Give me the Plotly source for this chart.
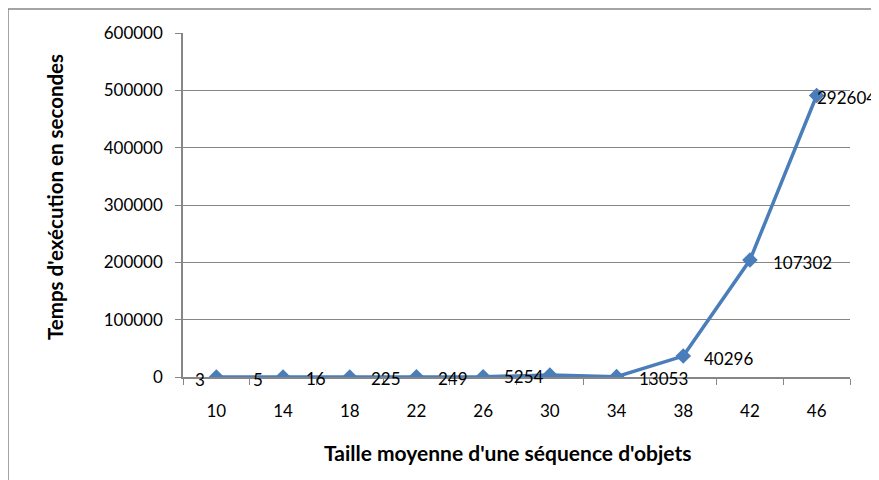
import plotly.graph_objects as go

categories = ["10", "14", "18", "22", "26", "30", "34", "38", "42", "46"]
values = [3, 5, 16, 225, 249, 3500, 600, 36500, 204000, 491000]
labels = ["3", "5", "16", "225", "249", "5254", "13053", "40296", "107302", "292604"]
y_ticks = [0, 100000, 200000, 300000, 400000, 500000, 600000]

label_shift = [-23, -32, -46, -47, -47, -48, 20, 19, 21, -2]

# page body has an 8px margin; coordinates below are window pixels
OFF = 8
WIN_W, WIN_H = 879, 480
W, H = WIN_W - OFF, WIN_H - OFF
PL, PR, PT, PB = 183, 850, 33, 377  # plot area in window pixels
L = PL - OFF
T = PT - OFF
R = W - (PR - OFF)
B = H - (PB - OFF)
pw, ph = PR - PL, PB - PT

def px(x):
    return (x - PL) / pw

def py(y):
    return (PB - y) / ph

FONT = "Lato"
FS = 17
grid = "#868686"
blue = "#4A7EBB"
idx = list(range(len(categories)))

fig = go.Figure()
fig.add_trace(go.Scatter(
    x=idx, y=values, mode="lines+markers",
    line=dict(color=blue, width=3.5),
    marker=dict(symbol="diamond", size=12, color=blue),
    hoverinfo="skip", showlegend=False,
))

annotations = []
for i, v, t, s in zip(idx, values, labels, label_shift):
    annotations.append(dict(
        x=i, y=v, xref="x", yref="y", text=t, showarrow=False,
        xanchor="left", yanchor="middle", xshift=s, yshift=-2,
        font=dict(family=FONT, size=FS, color="#000"),
    ))
annotations.append(dict(
    x=px(507), y=py(452), xref="paper", yref="paper",
    text="<b>Taille moyenne d'une séquence d'objets</b>", showarrow=False,
    xanchor="center", yanchor="middle",
    font=dict(family=FONT, size=21, color="#000"),
))
annotations.append(dict(
    x=px(55), y=py(197), xref="paper", yref="paper",
    text="<b>Temps d'exécution en secondes</b>", showarrow=False, textangle=-90,
    xanchor="center", yanchor="middle",
    font=dict(family=FONT, size=20.5, color="#000"),
))

fig.update_layout(
    width=W, height=H,
    margin=dict(l=L, r=R, t=T, b=B),
    paper_bgcolor="white", plot_bgcolor="white",
    font=dict(family=FONT, size=FS, color="#000"),
    annotations=annotations,
    shapes=[dict(
        type="rect", xref="paper", yref="paper",
        x0=px(8), y0=py(WIN_H + 40), x1=px(WIN_W + 40), y1=py(9),
        line=dict(color=grid, width=1.5), layer="below",
    )],
    xaxis=dict(
        tickmode="array", tickvals=idx, ticktext=categories,
        range=[-0.5, 9.5], ticks="",
        minor=dict(tickmode="array", tickvals=[i - 0.5 for i in idx] + [idx[-1] + 0.5],
                   ticks="outside", ticklen=6, tickcolor=grid, tickwidth=1, showgrid=False),
        showline=True, linecolor=grid, linewidth=1.5,
        showgrid=False, zeroline=False,
        ticklabelstandoff=18,
        tickfont=dict(family=FONT, size=FS, color="#000"),
    ),
    yaxis=dict(
        range=[0, 600000], tickvals=y_ticks, tickformat="d",
        ticks="outside", ticklen=6, tickcolor=grid, tickwidth=1,
        showline=True, linecolor=grid, linewidth=1.5,
        showgrid=True, gridcolor=grid, gridwidth=1.2, zeroline=False,
        ticklabelstandoff=9,
        tickfont=dict(family=FONT, size=FS, color="#000"),
    ),
)

fig.write_html("out.html")
